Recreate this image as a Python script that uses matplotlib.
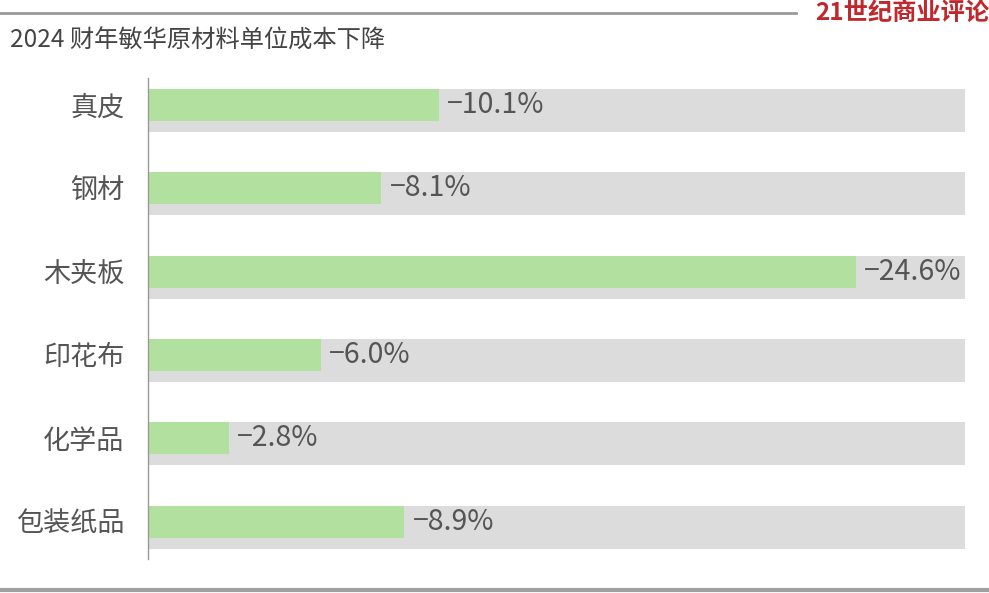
import numpy as np
import matplotlib
matplotlib.use('Agg')
import matplotlib.pyplot as plt
from matplotlib.lines import Line2D

plt.rcParams['font.family'] = ['Noto Sans CJK SC', 'DejaVu Sans']

title = "2024 财年敏华原材料单位成本下降"
categories = ["真皮", "钢材", "木夹板", "印花布", "化学品", "包装纸品"]
values = [10.1, 8.1, 24.6, 6.0, 2.8, 8.9]   # 单位成本下降 (%)
track_max = 28.4
source = "21世纪商业评论"

fig = plt.figure(figsize=(9.89, 5.93), dpi=100)
W, H = 989, 593

# axes: x 148..965 px, y 78..559 px
ax = fig.add_axes([148 / W, 1 - 559 / H, 817 / W, 481 / H])

y = np.arange(len(categories))
green_h = 0.384
gray_h = 0.516

# gray background tracks (top aligned with green bar)
ax.barh(y - green_h / 2, [track_max] * len(y), height=gray_h, align='edge',
        color='#dcdcdc', zorder=1)
ax.barh(y, values, height=green_h, color='#b2e09f', zorder=2)

for yi, v in zip(y, values):
    ax.text(v + 0.3, yi, "\u2212%.1f%%" % v, va='center', ha='left',
            fontsize=20.5, color='#555555', zorder=3)

ax.set_xlim(0, track_max)
ax.set_ylim(5.45, -0.324)
ax.set_yticks(y)
ax.set_yticklabels(categories, fontsize=19.5, color='#555555')
ax.tick_params(axis='y', length=0, pad=17)
ax.set_xticks([])
for s in ['top', 'right', 'bottom']:
    ax.spines[s].set_visible(False)
ax.spines['left'].set_color('#999999')
ax.spines['left'].set_linewidth(1)

# title and decorations
fig.text(10 / W, 1 - 41 / H, title, fontsize=17.5, color='#444444',
         ha='left', va='center')
fig.add_artist(Line2D([0, 796 / W], [1 - 13 / H, 1 - 13 / H],
                      color='#9a9a9a', lw=2))
fig.add_artist(Line2D([0, 1], [1 - 590 / H, 1 - 590 / H],
                      color='#a0a0a0', lw=3))
fig.text(1.0, 1 - 14 / H, source, fontsize=17.5, color='#c0282d',
         fontweight='bold', ha='right', va='center')

fig.savefig('out.png', dpi=100)
